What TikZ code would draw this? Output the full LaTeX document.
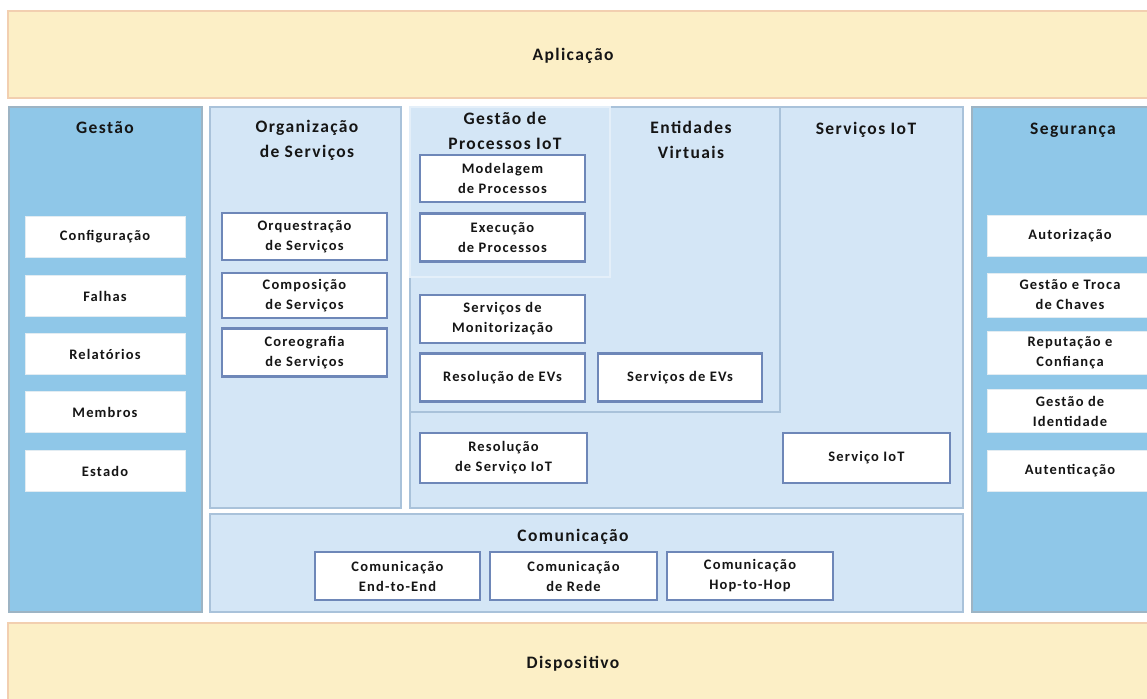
\documentclass[tikz,border=0pt]{standalone}
\usepackage{fontspec}
\setmainfont{Carlito}[LetterSpace=8]
\begin{document}
\begin{tikzpicture}[x=1pt,y=-1pt]
% colours
\definecolor{bandfill}{HTML}{FCEFC6}
\definecolor{banddraw}{HTML}{F2CFB0}
\definecolor{sidefill}{HTML}{8FC7E8}
\definecolor{sidedraw}{HTML}{9DB4C4}
\definecolor{panelfill}{HTML}{D4E6F6}
\definecolor{paneldraw}{HTML}{A9C2DA}
\definecolor{gpdraw}{HTML}{E4EFF9}
\definecolor{itemdraw}{HTML}{6E87B8}
\definecolor{sideitemdraw}{HTML}{E2ECF2}
\definecolor{txt}{HTML}{151515}
\tikzset{
  box/.style={inner sep=0pt, outer sep=0pt, anchor=north west},
  band/.style={box, fill=bandfill, draw=banddraw, line width=2pt},
  side/.style={box, fill=sidefill, draw=sidedraw, line width=2pt},
  panel/.style={box, fill=panelfill, draw=paneldraw, line width=1.6pt},
  gppanel/.style={box, fill=panelfill, draw=gpdraw, line width=1.6pt},
  item/.style={fill=white, draw=itemdraw, line width=2.4pt, align=center,
    font=\bfseries\fontsize{14.5}{20}\selectfont, text=txt, inner sep=0pt},
  sideitem/.style={fill=white, draw=sideitemdraw, line width=0.8pt, align=center,
    font=\bfseries\fontsize{14.5}{20}\selectfont, text=txt, inner sep=0pt,
    minimum height=41pt},
  title/.style={align=center, font=\bfseries\fontsize{17.5}{25}\selectfont, text=txt, inner sep=0pt},
}
\useasboundingbox (0,0) rectangle (1147,698);
\fill[white] (0,0) rectangle (1147,698);

% top and bottom bands
\node[band, minimum width=1150pt, minimum height=87pt] (apl) at (8,11) {};
\node[title] (aplT) at (573,56) {Aplicação};
\node[band, minimum width=1150pt, minimum height=85pt] (dev) at (8,623) {};
\node[title] (devT) at (573,664) {Dispositivo};

% side columns
\node[side, minimum width=193pt, minimum height=505pt] (gest) at (9,107) {};
\node[title] (gestT) at (105,128) {Gestão};
\node[side, minimum width=190pt, minimum height=505pt] (seg) at (972,107) {};
\node[title] (segT) at (1073,130) {Segurança};

% central panels
\node[panel, minimum width=191pt, minimum height=401pt] (org) at (210,107) {};
\node[title] (orgT) at (307,140) {Organização\\de Serviços};
\node[panel, minimum width=553pt, minimum height=401pt] (siot) at (410,107) {};
\node[title] (siotT) at (866,130) {Serviços IoT};
\node[panel, minimum width=370pt, minimum height=305pt] (ev) at (410,107) {};
\node[title] (evT) at (691,140) {Entidades\\Virtuais};
\node[gppanel, minimum width=200pt, minimum height=170pt] (gp) at (410,107) {};
\node[title] (gpT) at (505,131) {Gestão de\\Processos IoT};
\node[panel, minimum width=753pt, minimum height=98pt] (com) at (210,514) {};
\node[title] (comT) at (573,537) {Comunicação};

% management items
\node[sideitem, minimum width=160pt] (cfg) at (105,237) {Configuração};
\node[sideitem, minimum width=160pt] (fal) at (105,296) {Falhas};
\node[sideitem, minimum width=160pt] (rel) at (105,354) {Relatórios};
\node[sideitem, minimum width=160pt] (mem) at (105,412) {Membros};
\node[sideitem, minimum width=160pt] (est) at (105,471) {Estado};

% security items
\node[sideitem, minimum width=165pt] (aut) at (1070,236) {Autorização};
\node[sideitem, minimum width=165pt, minimum height=44pt] (chv) at (1070,295) {Gestão e Troca\\de Chaves};
\node[sideitem, minimum width=165pt, minimum height=43pt] (rep) at (1070,353) {Reputação e\\Confiança};
\node[sideitem, minimum width=165pt, minimum height=43pt] (idt) at (1070,411) {Gestão de\\Identidade};
\node[sideitem, minimum width=165pt] (atc) at (1070,471) {Autenticação};

% service organisation
\node[item, minimum width=165pt, minimum height=47pt] (orq) at (304.5,236.5) {Orquestração\\de Serviços};
\node[item, minimum width=165pt, minimum height=45pt] (cmp) at (304.5,295.5) {Composição\\de Serviços};
\node[item, minimum width=165pt, minimum height=48pt] (cor) at (304.5,352.5) {Coreografia\\de Serviços};

% process management
\node[item, minimum width=165pt, minimum height=47pt] (mod) at (502.5,178.5) {Modelagem\\de Processos};
\node[item, minimum width=165pt, minimum height=48pt] (exe) at (502.5,237.5) {Execução\\de Processos};

% virtual entities
\node[item, minimum width=165pt, minimum height=48pt] (mon) at (502.5,319) {Serviços de\\Monitorização};
\node[item, minimum width=165pt, minimum height=48pt] (rev) at (502.5,377.5) {Resolução de EVs};
\node[item, minimum width=164pt, minimum height=48pt] (sev) at (680,377.5) {Serviços de EVs};

% IoT services
\node[item, minimum width=167pt, minimum height=50pt] (rsi) at (503.5,458) {Resolução\\de Serviço IoT};
\node[item, minimum width=167pt, minimum height=50pt] (sio) at (866.5,458) {Serviço IoT};

% communication
\node[item, minimum width=165pt, minimum height=48pt] (e2e) at (397.5,576) {Comunicação\\End-to-End};
\node[item, minimum width=167pt, minimum height=48pt] (red) at (573.5,576) {Comunicação\\de Rede};
\node[item, minimum width=166pt, minimum height=48pt] (h2h) at (750,576) {Comunicação\\Hop-to-Hop};
\end{tikzpicture}
\end{document}
